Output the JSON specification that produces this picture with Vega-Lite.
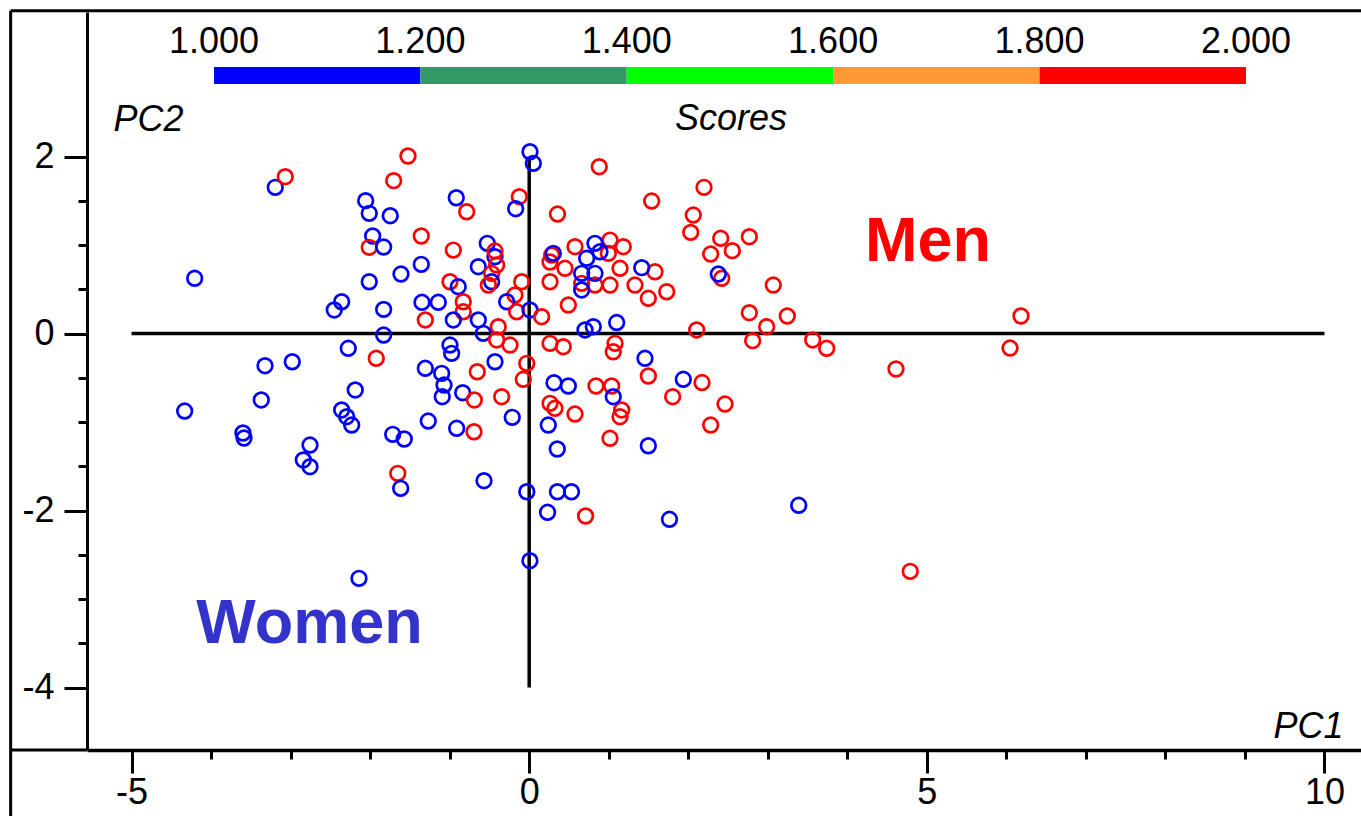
{
  "$schema": "https://vega.github.io/schema/vega-lite/v6.json",
  "width": 1274,
  "height": 738,
  "autosize": {"type": "none"},
  "padding": {"left": 87, "top": 12, "right": 0, "bottom": 66},
  "background": "white",
  "config": {
    "view": {"stroke": null},
    "font": "Liberation Sans",
    "axis": {
      "grid": false,
      "domainColor": "black",
      "tickColor": "black",
      "labelColor": "black",
      "titleColor": "black",
      "labelFont": "Liberation Sans",
      "titleFont": "Liberation Sans"
    }
  },
  "datasets": {
    "frame": [
      {"pc1": -6.52, "pc1_end": -6.52, "pc2": 3.647, "pc2_end": -5.6},
      {"pc1": -6.52, "pc1_end": 10.6, "pc2": 3.647, "pc2_end": 3.647},
      {"pc1": -6.52, "pc1_end": -5.56, "pc2": -4.706, "pc2_end": -4.706}
    ],
    "origin": [
      {"pc1": -5, "pc1_end": 10, "pc2": 0, "pc2_end": 0},
      {"pc1": 0, "pc1_end": 0, "pc2": -4, "pc2_end": 2}
    ],
    "scores": [
      {"pc1": -4.206, "pc2": 0.624, "sex": 1},
      {"pc1": -4.332, "pc2": -0.876, "sex": 1},
      {"pc1": -3.599, "pc2": -1.124, "sex": 1},
      {"pc1": -3.586, "pc2": -1.181, "sex": 1},
      {"pc1": -3.369, "pc2": -0.751, "sex": 1},
      {"pc1": -3.322, "pc2": -0.364, "sex": 1},
      {"pc1": -2.979, "pc2": -0.319, "sex": 1},
      {"pc1": -3.193, "pc2": 1.652, "sex": 1},
      {"pc1": -3.067, "pc2": 1.772, "sex": 2},
      {"pc1": -2.756, "pc2": -1.26, "sex": 1},
      {"pc1": -2.84, "pc2": -1.429, "sex": 1},
      {"pc1": -2.756, "pc2": -1.505, "sex": 1},
      {"pc1": -2.451, "pc2": 0.266, "sex": 1},
      {"pc1": -2.358, "pc2": 0.359, "sex": 1},
      {"pc1": -2.358, "pc2": -0.864, "sex": 1},
      {"pc1": -2.295, "pc2": -0.94, "sex": 1},
      {"pc1": -2.232, "pc2": -1.034, "sex": 1},
      {"pc1": -2.275, "pc2": -0.167, "sex": 1},
      {"pc1": -2.187, "pc2": -0.638, "sex": 1},
      {"pc1": -2.14, "pc2": -2.766, "sex": 1},
      {"pc1": -2.056, "pc2": 1.501, "sex": 1},
      {"pc1": -2.011, "pc2": 1.358, "sex": 1},
      {"pc1": -1.747, "pc2": 1.331, "sex": 1},
      {"pc1": -1.968, "pc2": 1.102, "sex": 1},
      {"pc1": -2.011, "pc2": 0.974, "sex": 2},
      {"pc1": -1.83, "pc2": 0.977, "sex": 1},
      {"pc1": -2.011, "pc2": 0.585, "sex": 1},
      {"pc1": -1.83, "pc2": 0.273, "sex": 1},
      {"pc1": -1.83, "pc2": -0.017, "sex": 1},
      {"pc1": -1.923, "pc2": -0.28, "sex": 2},
      {"pc1": -1.704, "pc2": 1.727, "sex": 2},
      {"pc1": -1.524, "pc2": 2.006, "sex": 2},
      {"pc1": -1.612, "pc2": 0.672, "sex": 1},
      {"pc1": -1.716, "pc2": -1.139, "sex": 1},
      {"pc1": -1.571, "pc2": -1.192, "sex": 1},
      {"pc1": -1.653, "pc2": -1.58, "sex": 2},
      {"pc1": -1.616, "pc2": -1.749, "sex": 1},
      {"pc1": -1.357, "pc2": 1.102, "sex": 2},
      {"pc1": -1.357, "pc2": 0.782, "sex": 1},
      {"pc1": -1.348, "pc2": 0.353, "sex": 1},
      {"pc1": -1.306, "pc2": 0.153, "sex": 2},
      {"pc1": -1.306, "pc2": -0.393, "sex": 1},
      {"pc1": -1.269, "pc2": -0.989, "sex": 1},
      {"pc1": -0.917, "pc2": 1.534, "sex": 1},
      {"pc1": -0.786, "pc2": 1.376, "sex": 2},
      {"pc1": -0.954, "pc2": 0.943, "sex": 2},
      {"pc1": -0.527, "pc2": 1.019, "sex": 1},
      {"pc1": -0.43, "pc2": 0.868, "sex": 1},
      {"pc1": -0.43, "pc2": 0.932, "sex": 2},
      {"pc1": -0.64, "pc2": 0.755, "sex": 1},
      {"pc1": -0.409, "pc2": 0.774, "sex": 2},
      {"pc1": -0.472, "pc2": 0.68, "sex": 2},
      {"pc1": -0.472, "pc2": 0.585, "sex": 1},
      {"pc1": -0.514, "pc2": 0.548, "sex": 2},
      {"pc1": -0.996, "pc2": 0.585, "sex": 2},
      {"pc1": -0.892, "pc2": 0.529, "sex": 1},
      {"pc1": -0.094, "pc2": 0.585, "sex": 2},
      {"pc1": -0.124, "pc2": 1.546, "sex": 2},
      {"pc1": -0.17, "pc2": 1.41, "sex": 1},
      {"pc1": 0.01, "pc2": 2.054, "sex": 1},
      {"pc1": 0.052, "pc2": 1.923, "sex": 1},
      {"pc1": -0.179, "pc2": 0.435, "sex": 2},
      {"pc1": -0.283, "pc2": 0.359, "sex": 1},
      {"pc1": -0.157, "pc2": 0.246, "sex": 2},
      {"pc1": 0.01, "pc2": 0.266, "sex": 1},
      {"pc1": 0.157, "pc2": 0.19, "sex": 2},
      {"pc1": -0.829, "pc2": 0.359, "sex": 2},
      {"pc1": -0.829, "pc2": 0.246, "sex": 2},
      {"pc1": -1.143, "pc2": 0.353, "sex": 1},
      {"pc1": -0.954, "pc2": 0.153, "sex": 1},
      {"pc1": -0.64, "pc2": 0.153, "sex": 1},
      {"pc1": -0.389, "pc2": 0.077, "sex": 2},
      {"pc1": -0.577, "pc2": 0.002, "sex": 1},
      {"pc1": -0.409, "pc2": -0.073, "sex": 2},
      {"pc1": -0.241, "pc2": -0.13, "sex": 2},
      {"pc1": -0.996, "pc2": -0.13, "sex": 1},
      {"pc1": -0.975, "pc2": -0.224, "sex": 1},
      {"pc1": -1.1, "pc2": -0.45, "sex": 1},
      {"pc1": -1.071, "pc2": -0.582, "sex": 1},
      {"pc1": -1.093, "pc2": -0.714, "sex": 1},
      {"pc1": -0.836, "pc2": -0.669, "sex": 1},
      {"pc1": -0.69, "pc2": -0.751, "sex": 2},
      {"pc1": -0.653, "pc2": -0.432, "sex": 2},
      {"pc1": -0.43, "pc2": -0.319, "sex": 1},
      {"pc1": -0.346, "pc2": -0.714, "sex": 2},
      {"pc1": -0.031, "pc2": -0.337, "sex": 2},
      {"pc1": -0.074, "pc2": -0.517, "sex": 2},
      {"pc1": -0.912, "pc2": -1.071, "sex": 1},
      {"pc1": -0.694, "pc2": -1.11, "sex": 2},
      {"pc1": -0.213, "pc2": -0.947, "sex": 1},
      {"pc1": -0.568, "pc2": -1.663, "sex": 1},
      {"pc1": -0.03, "pc2": -1.788, "sex": 1},
      {"pc1": 0.009, "pc2": -2.567, "sex": 1},
      {"pc1": 0.356, "pc2": 1.35, "sex": 2},
      {"pc1": 0.283, "pc2": 0.887, "sex": 2},
      {"pc1": 0.262, "pc2": 0.808, "sex": 2},
      {"pc1": 0.576, "pc2": 0.981, "sex": 2},
      {"pc1": 1.016, "pc2": 1.056, "sex": 2},
      {"pc1": 1.183, "pc2": 0.981, "sex": 2},
      {"pc1": 0.995, "pc2": 0.906, "sex": 2},
      {"pc1": 0.45, "pc2": 0.737, "sex": 2},
      {"pc1": 0.262, "pc2": 0.585, "sex": 2},
      {"pc1": 1.142, "pc2": 0.737, "sex": 2},
      {"pc1": 1.582, "pc2": 0.698, "sex": 2},
      {"pc1": 0.66, "pc2": 0.567, "sex": 2},
      {"pc1": 0.827, "pc2": 0.548, "sex": 2},
      {"pc1": 1.016, "pc2": 0.548, "sex": 2},
      {"pc1": 1.33, "pc2": 0.548, "sex": 2},
      {"pc1": 1.498, "pc2": 0.398, "sex": 2},
      {"pc1": 1.729, "pc2": 0.472, "sex": 2},
      {"pc1": 0.492, "pc2": 0.322, "sex": 2},
      {"pc1": 0.303, "pc2": 0.906, "sex": 1},
      {"pc1": 0.827, "pc2": 1.019, "sex": 1},
      {"pc1": 0.89, "pc2": 0.924, "sex": 1},
      {"pc1": 0.723, "pc2": 0.85, "sex": 1},
      {"pc1": 0.66, "pc2": 0.68, "sex": 1},
      {"pc1": 0.827, "pc2": 0.68, "sex": 1},
      {"pc1": 0.66, "pc2": 0.492, "sex": 1},
      {"pc1": 1.415, "pc2": 0.744, "sex": 1},
      {"pc1": 0.702, "pc2": 0.04, "sex": 1},
      {"pc1": 0.806, "pc2": 0.077, "sex": 1},
      {"pc1": 1.1, "pc2": 0.124, "sex": 1},
      {"pc1": 0.881, "pc2": 1.885, "sex": 2},
      {"pc1": 1.54, "pc2": 1.497, "sex": 2},
      {"pc1": 2.198, "pc2": 1.652, "sex": 2},
      {"pc1": 2.063, "pc2": 1.339, "sex": 2},
      {"pc1": 2.031, "pc2": 1.143, "sex": 2},
      {"pc1": 2.408, "pc2": 1.076, "sex": 2},
      {"pc1": 2.768, "pc2": 1.094, "sex": 2},
      {"pc1": 2.282, "pc2": 0.898, "sex": 2},
      {"pc1": 2.554, "pc2": 0.936, "sex": 2},
      {"pc1": 2.421, "pc2": 0.624, "sex": 2},
      {"pc1": 3.069, "pc2": 0.548, "sex": 2},
      {"pc1": 2.768, "pc2": 0.235, "sex": 2},
      {"pc1": 2.986, "pc2": 0.077, "sex": 2},
      {"pc1": 3.245, "pc2": 0.198, "sex": 2},
      {"pc1": 2.81, "pc2": -0.081, "sex": 2},
      {"pc1": 3.565, "pc2": -0.073, "sex": 2},
      {"pc1": 3.741, "pc2": -0.167, "sex": 2},
      {"pc1": 4.612, "pc2": -0.401, "sex": 2},
      {"pc1": 2.106, "pc2": 0.04, "sex": 2},
      {"pc1": 6.046, "pc2": -0.164, "sex": 2},
      {"pc1": 6.184, "pc2": 0.198, "sex": 2},
      {"pc1": 4.791, "pc2": -2.687, "sex": 2},
      {"pc1": 2.378, "pc2": 0.672, "sex": 1},
      {"pc1": 3.389, "pc2": -1.941, "sex": 1},
      {"pc1": 0.262, "pc2": -0.111, "sex": 2},
      {"pc1": 0.429, "pc2": -0.149, "sex": 2},
      {"pc1": 1.079, "pc2": -0.111, "sex": 2},
      {"pc1": 1.057, "pc2": -0.206, "sex": 2},
      {"pc1": 1.498, "pc2": -0.48, "sex": 2},
      {"pc1": 2.173, "pc2": -0.554, "sex": 2},
      {"pc1": 0.84, "pc2": -0.593, "sex": 2},
      {"pc1": 1.037, "pc2": -0.593, "sex": 2},
      {"pc1": 1.804, "pc2": -0.714, "sex": 2},
      {"pc1": 0.262, "pc2": -0.789, "sex": 2},
      {"pc1": 0.324, "pc2": -0.845, "sex": 2},
      {"pc1": 0.576, "pc2": -0.91, "sex": 2},
      {"pc1": 1.163, "pc2": -0.864, "sex": 2},
      {"pc1": 1.142, "pc2": -0.94, "sex": 2},
      {"pc1": 1.016, "pc2": -1.184, "sex": 2},
      {"pc1": 2.462, "pc2": -0.797, "sex": 2},
      {"pc1": 2.282, "pc2": -1.034, "sex": 2},
      {"pc1": 0.709, "pc2": -2.062, "sex": 2},
      {"pc1": 1.456, "pc2": -0.28, "sex": 1},
      {"pc1": 1.938, "pc2": -0.517, "sex": 1},
      {"pc1": 0.312, "pc2": -0.556, "sex": 1},
      {"pc1": 0.492, "pc2": -0.593, "sex": 1},
      {"pc1": 1.057, "pc2": -0.714, "sex": 1},
      {"pc1": 0.24, "pc2": -1.034, "sex": 1},
      {"pc1": 0.353, "pc2": -1.305, "sex": 1},
      {"pc1": 1.498, "pc2": -1.268, "sex": 1},
      {"pc1": 0.231, "pc2": -2.02, "sex": 1},
      {"pc1": 0.355, "pc2": -1.788, "sex": 1},
      {"pc1": 0.532, "pc2": -1.788, "sex": 1},
      {"pc1": 1.764, "pc2": -2.099, "sex": 1}
    ]
  },
  "encoding": {
    "x": {
      "field": "pc1",
      "type": "quantitative",
      "scale": {"domain": [-5.56, 10.459], "nice": false, "zero": false},
      "axis": {
        "orient": "bottom",
        "values": [-5, -4, -3, -2, -1, 0, 1, 2, 3, 4, 5, 6, 7, 8, 9, 10],
        "domainWidth": 3.5,
        "tickWidth": 3,
        "tickSize": {"condition": {"test": "datum.value % 5 === 0", "value": 23}, "value": 9},
        "labelExpr": "datum.value % 5 === 0 ? toString(datum.value) : ''",
        "labelFontSize": 36,
        "labelBaseline": "top",
        "labelPadding": 2,
        "labelFlush": false,
        "labelOverlap": false,
        "title": "PC1",
        "titleFontSize": 36,
        "titleFontStyle": "italic",
        "titleFontWeight": "normal",
        "titleX": 1256,
        "titleY": -13,
        "titleAlign": "right",
        "titleBaseline": "alphabetic"
      }
    },
    "y": {
      "field": "pc2",
      "type": "quantitative",
      "scale": {"domain": [-4.706, 3.633], "nice": false, "zero": false},
      "axis": {
        "orient": "left",
        "values": [-4, -3.5, -3, -2.5, -2, -1.5, -1, -0.5, 0, 0.5, 1, 1.5, 2],
        "domainWidth": 3,
        "tickWidth": 3,
        "tickSize": {"condition": {"test": "datum.value % 2 === 0", "value": 23}, "value": 9},
        "labelExpr": "datum.value % 2 === 0 ? toString(datum.value) : ''",
        "labelFontSize": 36,
        "labelBaseline": "middle",
        "labelAlign": "right",
        "labelPadding": 10,
        "labelFlush": false,
        "labelOverlap": false,
        "title": "PC2",
        "titleFontSize": 36,
        "titleFontStyle": "italic",
        "titleFontWeight": "normal",
        "titleAngle": 0,
        "titleX": 26,
        "titleY": 118,
        "titleAlign": "left",
        "titleBaseline": "alphabetic"
      }
    }
  },
  "layer": [
    {
      "data": {"name": "frame"},
      "mark": {"type": "rule", "color": "black", "strokeWidth": 3},
      "encoding": {"x2": {"field": "pc1_end"}, "y2": {"field": "pc2_end"}}
    },
    {
      "data": {"name": "origin"},
      "mark": {"type": "rule", "color": "black", "strokeWidth": 3.5},
      "encoding": {"x2": {"field": "pc1_end"}, "y2": {"field": "pc2_end"}}
    },
    {
      "data": {"name": "scores"},
      "mark": {"type": "point", "shape": "circle", "filled": false, "size": 215, "strokeWidth": 2.7, "opacity": 1},
      "encoding": {
        "color": {
          "field": "sex",
          "type": "quantitative",
          "scale": {
            "type": "threshold",
            "domain": [1, 1.2, 1.4, 1.6, 1.8, 2.0001],
            "range": ["rgba(255,255,255,0)", "#0000ff", "#339966", "#00ff00", "#ff9933", "#ff0000", "rgba(255,255,255,0)"]
          },
          "legend": {
            "type": "gradient",
            "orient": "none",
            "legendX": -79.4,
            "legendY": 55,
            "direction": "horizontal",
            "title": null,
            "padding": 0,
            "gradientLength": 1444.8,
            "gradientThickness": 17,
            "gradientStrokeWidth": 0,
            "format": ".3f",
            "labelFont": "Liberation Sans",
            "labelFontSize": 36,
            "labelColor": "black",
            "labelOffset": -59,
            "labelOverlap": false
          }
        }
      }
    },
    {
      "data": {"values": [{"pc1": 2.537, "pc2": 2.299, "label": "Scores"}]},
      "mark": {"type": "text", "font": "Liberation Sans", "fontSize": 36, "fontStyle": "italic", "align": "center", "baseline": "alphabetic", "color": "black"},
      "encoding": {"text": {"field": "label"}}
    },
    {
      "data": {"values": [{"pc1": 4.222, "pc2": 0.825, "label": "Men"}]},
      "mark": {"type": "text", "font": "Liberation Sans", "fontSize": 63, "fontWeight": "bold", "align": "left", "baseline": "alphabetic", "color": "#ff0000"},
      "encoding": {"text": {"field": "label"}}
    },
    {
      "data": {"values": [{"pc1": -4.185, "pc2": -3.501, "label": "Women"}]},
      "mark": {"type": "text", "font": "Liberation Sans", "fontSize": 63, "fontWeight": "bold", "align": "left", "baseline": "alphabetic", "color": "#3333cc"},
      "encoding": {"text": {"field": "label"}}
    }
  ]
}
